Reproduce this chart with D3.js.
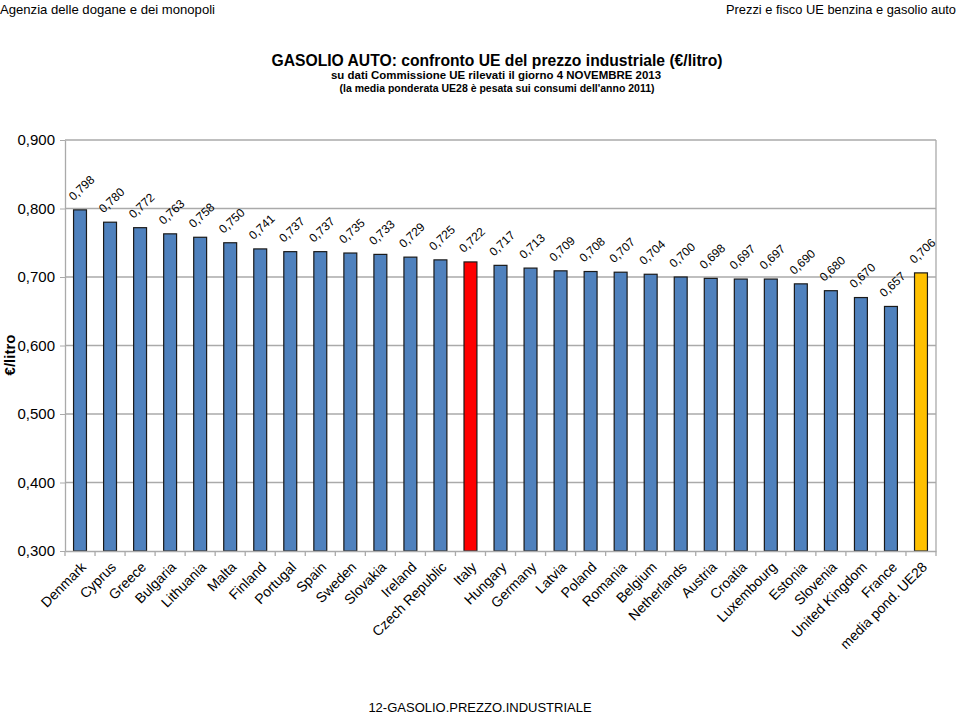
<!DOCTYPE html>
<html><head><meta charset="utf-8">
<script src="https://cdn.jsdelivr.net/npm/d3@7"></script>
<style>body{margin:0;background:#fff}svg{display:block}</style>
</head><body>
<script>
const categories = ["Denmark","Cyprus","Greece","Bulgaria","Lithuania","Malta","Finland","Portugal","Spain","Sweden","Slovakia","Ireland","Czech Republic","Italy","Hungary","Germany","Latvia","Poland","Romania","Belgium","Netherlands","Austria","Croatia","Luxembourg","Estonia","Slovenia","United Kingdom","France","media pond. UE28"];
const values = [0.798,0.780,0.772,0.763,0.758,0.750,0.741,0.737,0.737,0.735,0.733,0.729,0.725,0.722,0.717,0.713,0.709,0.708,0.707,0.704,0.700,0.698,0.697,0.697,0.690,0.680,0.670,0.657,0.706];
const yTicks = [0.3,0.4,0.5,0.6,0.7,0.8,0.9];
const colorFor = c => c === "Italy" ? "#FF0000" : (c === "media pond. UE28" ? "#FFC000" : "#4F81BD");

const W = 960, H = 714;
const m = {left:65, right:936, top:140, bottom:551};
const svg = d3.select("body").append("svg").attr("width", W).attr("height", H);
const fmt = v => d3.format(".3f")(v).replace(".", ",");
const FONT = "Arial, Liberation Sans, sans-serif";

const x = d3.scaleBand().domain(categories).range([m.left, m.right]).paddingInner(0.57).paddingOuter(0.285);
const y = d3.scaleLinear().domain([0.3, 0.9]).range([m.bottom, m.top]);

// gridlines
svg.append("g").selectAll("line").data(yTicks.slice(1)).join("line")
  .attr("x1", m.left).attr("x2", m.right).attr("y1", d => y(d)).attr("y2", d => y(d))
  .attr("stroke", "#AAAAAA").attr("stroke-width", 1.3);
svg.append("line").attr("x1", m.right).attr("x2", m.right).attr("y1", m.top).attr("y2", m.bottom)
  .attr("stroke", "#AAAAAA").attr("stroke-width", 1.3);

// bars
svg.append("g").selectAll("rect").data(categories).join("rect")
  .attr("x", d => x(d)).attr("width", x.bandwidth())
  .attr("y", (d, i) => y(values[i])).attr("height", (d, i) => y(0.3) - y(values[i]))
  .attr("fill", d => colorFor(d)).attr("stroke", "#1a1a1a").attr("stroke-width", 1.2);

// y axis
const yAxis = d3.axisLeft(y).tickValues(yTicks).tickFormat(fmt).tickSize(5).tickSizeOuter(0);
const gy = svg.append("g").attr("transform", `translate(${m.left},0)`).call(yAxis);
gy.select(".domain").attr("stroke", "#AAAAAA").attr("stroke-width", 1.3);
gy.selectAll(".tick line").attr("stroke", "#AAAAAA");
gy.selectAll("text").attr("font-family", FONT).attr("font-size", 15).attr("fill", "#000").attr("x", -10);

// x axis
const xAxis = d3.axisBottom(x).tickSize(0).tickSizeOuter(0);
const gx = svg.append("g").attr("transform", `translate(0,${m.bottom})`).call(xAxis);
gx.select(".domain").attr("stroke", "#AAAAAA").attr("stroke-width", 1.3);
gx.append("g").selectAll("line").data(d3.range(categories.length + 1)).join("line")
  .attr("x1", i => m.left + i * (m.right - m.left) / categories.length)
  .attr("x2", i => m.left + i * (m.right - m.left) / categories.length)
  .attr("y1", 0).attr("y2", 5).attr("stroke", "#AAAAAA").attr("stroke-width", 1.3);
gx.selectAll(".tick text")
  .attr("font-family", FONT).attr("font-size", 14).attr("fill", "#000")
  .attr("text-anchor", "end").attr("dy", null).attr("y", 0)
  .attr("transform", "translate(7,17) rotate(-45)");

// value labels
const vl = svg.append("g").selectAll("g").data(categories).join("g")
  .attr("transform", (d, i) => `translate(${x(d) + x.bandwidth() / 2 + 1.5},${y(values[i]) - 22})`);
vl.append("text")
  .attr("transform", "rotate(-43)")
  .attr("text-anchor", "middle").attr("dy", "0.35em")
  .attr("font-family", FONT).attr("font-size", 12).attr("fill", "#000")
  .text((d, i) => fmt(values[i]));

// y label
svg.append("text").attr("transform", "translate(15,355) rotate(-90)").attr("text-anchor", "middle")
  .attr("font-family", FONT).attr("font-weight", "bold").attr("font-size", 15)
  .text("€/litro");

// headers
svg.append("text").attr("x", 0).attr("y", 14).attr("font-family", FONT)
  .attr("font-size", 13).attr("textLength", 215).attr("lengthAdjust", "spacingAndGlyphs")
  .text("Agenzia delle dogane e dei monopoli");
svg.append("text").attr("x", 726).attr("y", 14).attr("text-anchor", "start").attr("font-family", FONT)
  .attr("font-size", 13).attr("textLength", 230).attr("lengthAdjust", "spacingAndGlyphs")
  .text("Prezzi e fisco UE benzina e gasolio auto");

// titles
svg.append("text").attr("x", 497).attr("y", 66).attr("text-anchor", "middle")
  .attr("font-family", FONT).attr("font-weight", "bold").attr("font-size", 17)
  .attr("textLength", 451).attr("lengthAdjust", "spacingAndGlyphs")
  .text("GASOLIO AUTO: confronto UE del prezzo industriale (€/litro)");
svg.append("text").attr("x", 496).attr("y", 79).attr("text-anchor", "middle")
  .attr("font-family", FONT).attr("font-weight", "bold").attr("font-size", 11.5)
  .attr("textLength", 330).attr("lengthAdjust", "spacingAndGlyphs")
  .text("su dati Commissione UE rilevati il giorno  4 NOVEMBRE 2013");
svg.append("text").attr("x", 497).attr("y", 92).attr("text-anchor", "middle")
  .attr("font-family", FONT).attr("font-weight", "bold").attr("font-size", 11.5)
  .attr("textLength", 315).attr("lengthAdjust", "spacingAndGlyphs")
  .text("(la media ponderata UE28 è pesata sui consumi dell'anno 2011)");

// footer
svg.append("text").attr("x", 480).attr("y", 712).attr("text-anchor", "middle")
  .attr("font-family", FONT).attr("font-size", 13)
  .text("12-GASOLIO.PREZZO.INDUSTRIALE");
</script>
</body></html>
